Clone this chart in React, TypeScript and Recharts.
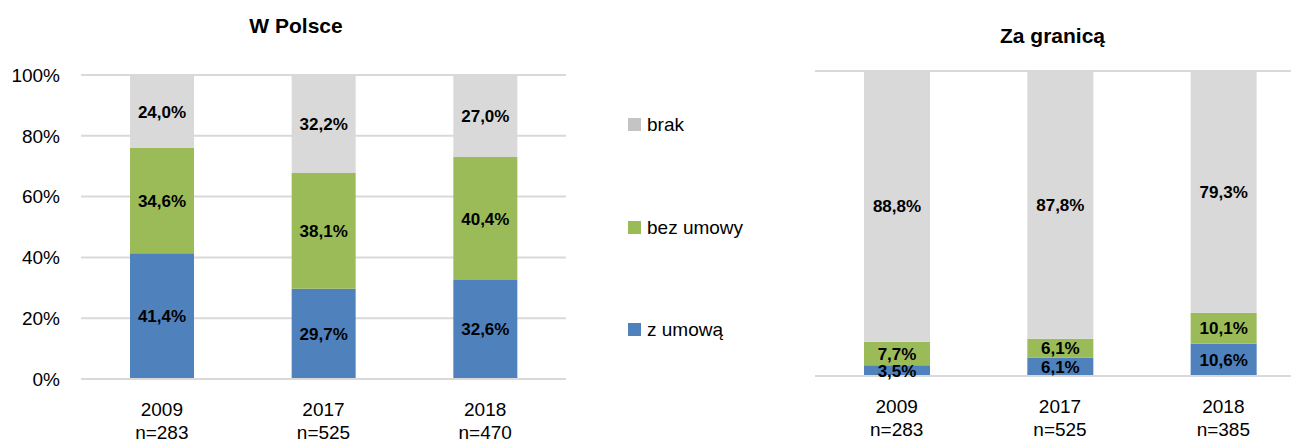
import { BarChart, Bar, XAxis, YAxis, CartesianGrid, LabelList } from "recharts";

const years = ["2009", "2017", "2018"];
const plSamples = ["n=283", "n=525", "n=470"];
const abroadSamples = ["n=283", "n=525", "n=385"];

// W Polsce
const plZUmowa = [41.4, 29.7, 32.6];
const plBezUmowy = [34.6, 38.1, 40.4];
const plBrak = [24.0, 32.2, 27.0];

// Za granicą
const abZUmowa = [3.5, 6.1, 10.6];
const abBezUmowy = [7.7, 6.1, 10.1];
const abBrak = [88.8, 87.8, 79.3];

const yTicks = [0, 20, 40, 60, 80, 100];

const COLORS = {
  zUmowa: "#4F81BD",
  bezUmowy: "#9BBB59",
  brak: "#D9D9D9",
};

const plData = years.map((y, i) => ({
  year: y,
  zUmowa: plZUmowa[i],
  bezUmowy: plBezUmowy[i],
  brak: plBrak[i],
}));

const abData = years.map((y, i) => ({
  year: y,
  zUmowa: abZUmowa[i],
  bezUmowy: abBezUmowy[i],
  brak: abBrak[i],
}));

const fmt = (v: any) => `${Number(v).toFixed(1).replace(".", ",")}%`;

// two-line category label: year + sample size
function YearTick({ x, y, payload, samples }: any) {
  const i = years.indexOf(payload.value);
  return (
    <text x={x} y={y} textAnchor="middle" fill="#000" fontSize={19}>
      <tspan x={x} dy={37}>
        {payload.value}
      </tspan>
      <tspan x={x} dy={23}>
        {samples[i]}
      </tspan>
    </text>
  );
}

const labelStyle = { fill: "#000", fontSize: 17, fontWeight: "bold" as const };

function renderBars(barSize: number) {
  return [
    <Bar key="z" dataKey="zUmowa" stackId="a" fill={COLORS.zUmowa} barSize={barSize} isAnimationActive={false}>
      <LabelList dataKey="zUmowa" position="center" formatter={fmt} {...labelStyle} />
    </Bar>,
    <Bar key="b" dataKey="bezUmowy" stackId="a" fill={COLORS.bezUmowy} barSize={barSize} isAnimationActive={false}>
      <LabelList dataKey="bezUmowy" position="center" formatter={fmt} {...labelStyle} />
    </Bar>,
    <Bar key="k" dataKey="brak" stackId="a" fill={COLORS.brak} barSize={barSize} isAnimationActive={false}>
      <LabelList dataKey="brak" position="center" formatter={fmt} {...labelStyle} />
    </Bar>,
  ];
}

const legendItems = [
  { label: "brak", color: "#C4C4C4", top: 118 },
  { label: "bez umowy", color: COLORS.bezUmowy, top: 221 },
  { label: "z umową", color: COLORS.zUmowa, top: 323 },
];

export default function App() {
  return (
    <div
      style={{
        position: "absolute",
        left: 0,
        top: 0,
        width: 1291,
        height: 443,
        overflow: "hidden",
        background: "#fff",
        fontFamily: "'Liberation Sans', Arial, sans-serif",
      }}
    >
      <div
        style={{
          position: "absolute",
          left: 0,
          width: 592,
          top: 14,
          textAlign: "center",
          fontWeight: "bold",
          fontSize: 21,
        }}
      >
        W Polsce
      </div>
      <div style={{ position: "absolute", left: 0, top: 0 }}>
        <BarChart width={600} height={443} data={plData} margin={{ top: 75, right: 34, bottom: 0, left: 0 }}>
          <CartesianGrid vertical={false} stroke="#D9D9D9" strokeWidth={2} />
          <XAxis
            dataKey="year"
            axisLine={{ stroke: "#D9D9D9", strokeWidth: 2 }}
            tickLine={false}
            tickSize={0}
            tickMargin={0}
            height={64}
            interval={0}
            tick={<YearTick samples={plSamples} />}
          />
          <YAxis
            domain={[0, 100]}
            ticks={yTicks}
            tickFormatter={(v) => `${v}%`}
            axisLine={false}
            tickLine={false}
            tickSize={0}
            tickMargin={21}
            width={81}
            tick={{ fill: "#000", fontSize: 19 }}
          />
          {renderBars(64)}
        </BarChart>
      </div>

      {legendItems.map((it) => (
        <div key={it.label} style={{ position: "absolute", left: 628, top: it.top, height: 13, display: "flex", alignItems: "center" }}>
          <div style={{ width: 13, height: 13, background: it.color }} />
          <span style={{ marginLeft: 6, fontSize: 19, color: "#000", lineHeight: "13px" }}>{it.label}</span>
        </div>
      ))}

      <div
        style={{
          position: "absolute",
          left: 800,
          width: 505,
          top: 24,
          textAlign: "center",
          fontWeight: "bold",
          fontSize: 21,
        }}
      >
        Za granicą
      </div>
      <div style={{ position: "absolute", left: 800, top: 0 }}>
        <BarChart width={520} height={443} data={abData} margin={{ top: 71, right: 15, bottom: 0, left: 15 }}>
          <CartesianGrid vertical={false} stroke="#D9D9D9" strokeWidth={2} />
          <XAxis
            dataKey="year"
            axisLine={{ stroke: "#D9D9D9", strokeWidth: 2 }}
            tickLine={false}
            tickSize={0}
            tickMargin={0}
            height={67}
            interval={0}
            tick={<YearTick samples={abroadSamples} />}
          />
          <YAxis domain={[0, 100]} ticks={yTicks} axisLine={false} tickLine={false} tick={false} width={0} />
          {renderBars(66)}
        </BarChart>
      </div>
    </div>
  );
}
